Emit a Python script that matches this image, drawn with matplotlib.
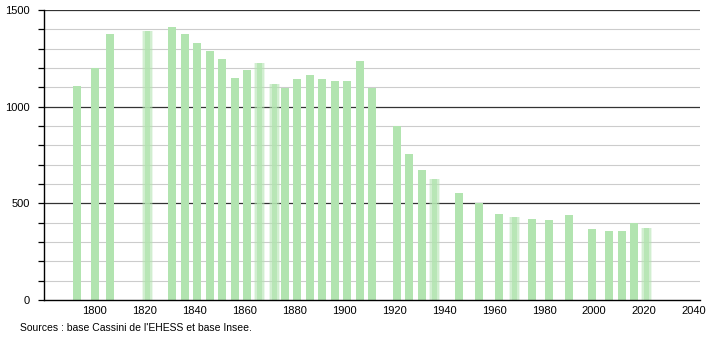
import matplotlib.pyplot as plt
import numpy as np

plt.rcParams['font.family'] = ['Liberation Sans', 'DejaVu Sans']

# census years and population
years = [1793, 1800, 1806, 1821, 1831, 1836, 1841, 1846, 1851, 1856,
         1861, 1866, 1872, 1876, 1881, 1886, 1891, 1896, 1901, 1906,
         1911, 1921, 1926, 1931, 1936, 1946, 1954, 1962, 1968, 1975,
         1982, 1990, 1999, 2006, 2011, 2016, 2021]
pop = [1107, 1198, 1376, 1393, 1410, 1376, 1331, 1288, 1245, 1148,
       1191, 1226, 1119, 1097, 1143, 1164, 1143, 1134, 1134, 1236,
       1095, 898, 755, 672, 626, 553, 500, 445, 429, 419,
       416, 440, 365, 355, 355, 397, 374]
# bars drawn with blurred edges in the original
faded = [1821, 1866, 1872, 1936, 1968, 2021]

xticks = list(range(1800, 2041, 20))
yticks = [0, 500, 1000, 1500]

fig = plt.figure(figsize=(7.1, 3.4), dpi=100)
ax = fig.add_axes([0.062, 0.1176, 0.924, 0.853])

green = '#b2e4b0'
for y in range(100, 1501, 100):
    if y % 500 == 0:
        ax.axhline(y, color='#333333', lw=0.9, zorder=1)
    else:
        ax.axhline(y, color='#cccccc', lw=0.8, zorder=1)

for yr, p in zip(years, pop):
    if yr in faded:
        ax.bar(yr, p, width=4.6, color=green, alpha=0.25, zorder=2, linewidth=0)
        ax.bar(yr, p, width=3.4, color=green, alpha=0.45, zorder=2, linewidth=0)
        ax.bar(yr, p, width=2.2, color=green, alpha=0.8, zorder=2, linewidth=0)
    else:
        ax.bar(yr, p, width=3.2, color=green, zorder=2, linewidth=0)

ax.set_xlim(1779.6, 2042.4)
ax.set_ylim(0, 1500)
ax.set_xticks(xticks)
ax.set_yticks(yticks)
ax.set_yticks(range(0, 1501, 100), minor=True)
ax.tick_params(axis='x', length=0, labelsize=8, pad=4)
ax.tick_params(axis='y', which='both', length=4, width=0.9, labelsize=8, pad=6)

for s in ['top', 'right']:
    ax.spines[s].set_visible(False)
ax.spines['left'].set_linewidth(1.0)
ax.spines['bottom'].set_linewidth(1.0)
ax.spines['left'].set_zorder(3)
ax.spines['bottom'].set_zorder(3)

fig.text(20 / 710, 1 - 328 / 340, "Sources : base Cassini de l'EHESS et base Insee.",
         fontsize=7.5, va='center', ha='left')

fig.savefig('out.png', dpi=100)
